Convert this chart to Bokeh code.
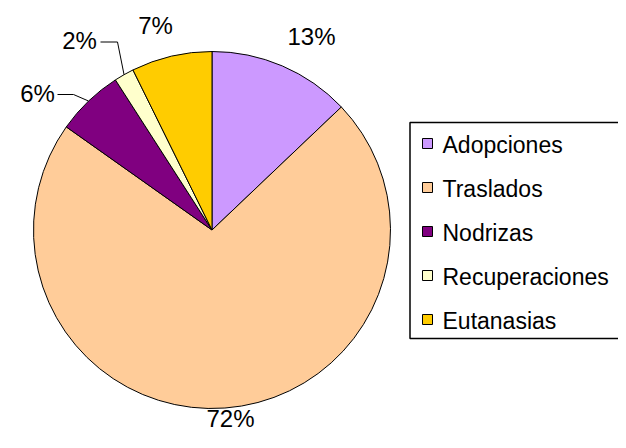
import math
from bokeh.plotting import figure
from bokeh.models import Range1d, ColumnDataSource
from bokeh.core.properties import value
from bokeh.embed import file_html
from bokeh.resources import INLINE

# ---- data ----
categories = ["Adopciones", "Traslados", "Nodrizas", "Recuperaciones", "Eutanasias"]
shares = [12.9, 71.9, 6.1, 1.8, 7.3]
colors = ["#CC99FF", "#FFCC99", "#800080", "#FFFFCC", "#FFCC00"]
pct_labels = [f"{round(v)}%" for v in shares]

# ---- layout (picture pixel coordinates, y downward) ----
H = 448.0
def Y(py):
    return H - py

cx, cy_px, R = 211.5, 229.5, 178.5
cy = Y(cy_px)
FONT = value("Liberation Sans")

W_FIG, H_FIG = 618, 432
p = figure(width=W_FIG, height=H_FIG, x_range=Range1d(0, W_FIG), y_range=Range1d(H - H_FIG, H),
           output_backend="svg", toolbar_location=None, min_border=0)
p.axis.visible = False
p.grid.visible = False
p.outline_line_color = None
p.background_fill_color = "white"
p.border_fill_color = "white"

total = sum(shares)
before = []
after = []
acc = 0.0
for v in shares:
    before.append(acc / total)
    acc += v
    after.append(acc / total)

starts = [math.pi / 2 - 2 * math.pi * a for a in after]
ends = [math.pi / 2 - 2 * math.pi * b for b in before]
src = ColumnDataSource(dict(x=[cx] * len(shares), y=[cy] * len(shares),
                            start=starts, end=ends, color=colors))
p.wedge(x="x", y="y", radius=R, start_angle="start", end_angle="end",
        direction="anticlock", fill_color="color", line_color="black",
        line_width=1, source=src)

# mid angles (clockwise from top, radians)
mids = [2 * math.pi * (b + a) / 2 for b, a in zip(before, after)]

# label anchors (picture px) per slice
label_pos = [(311, 36), (230, 418), (37, 93), (79, 40), (155, 25)]
p.text(x=[lp[0] for lp in label_pos], y=[Y(lp[1]) for lp in label_pos],
       text=pct_labels, text_font=FONT, text_font_size="24px",
       text_align="center", text_baseline="middle", text_color="black")

# leader lines for small slices (Nodrizas, Recuperaciones)
leader_start = {2: (57, 94, 73), 3: (100, 41.5, 117)}
xs, ys = [], []
for i, (x0, y0, x1) in leader_start.items():
    ex = cx + R * math.sin(mids[i])
    ey_px = cy_px - R * math.cos(mids[i])
    xs.append([x0, x1, ex])
    ys.append([Y(y0), Y(y0), Y(ey_px)])
p.multi_line(xs=xs, ys=ys, line_color="black", line_width=1)

# legend box
p.quad(left=[409.5], right=[700], top=[Y(122)], bottom=[Y(338)],
       fill_color="white", line_color="black", line_width=1.5)
item_y = [Y(143 + 44 * i) for i in range(len(categories))]
p.scatter(x=[427] * len(categories), y=item_y, marker="square", size=10,
          fill_color=colors, line_color="black", line_width=1)
p.text(x=[442] * len(categories), y=[yy - 1 for yy in item_y], text=categories,
       text_font=FONT, text_font_size="23px", text_align="left",
       text_baseline="middle", text_color="black")

open("out.html", "w").write(file_html(p, INLINE))
